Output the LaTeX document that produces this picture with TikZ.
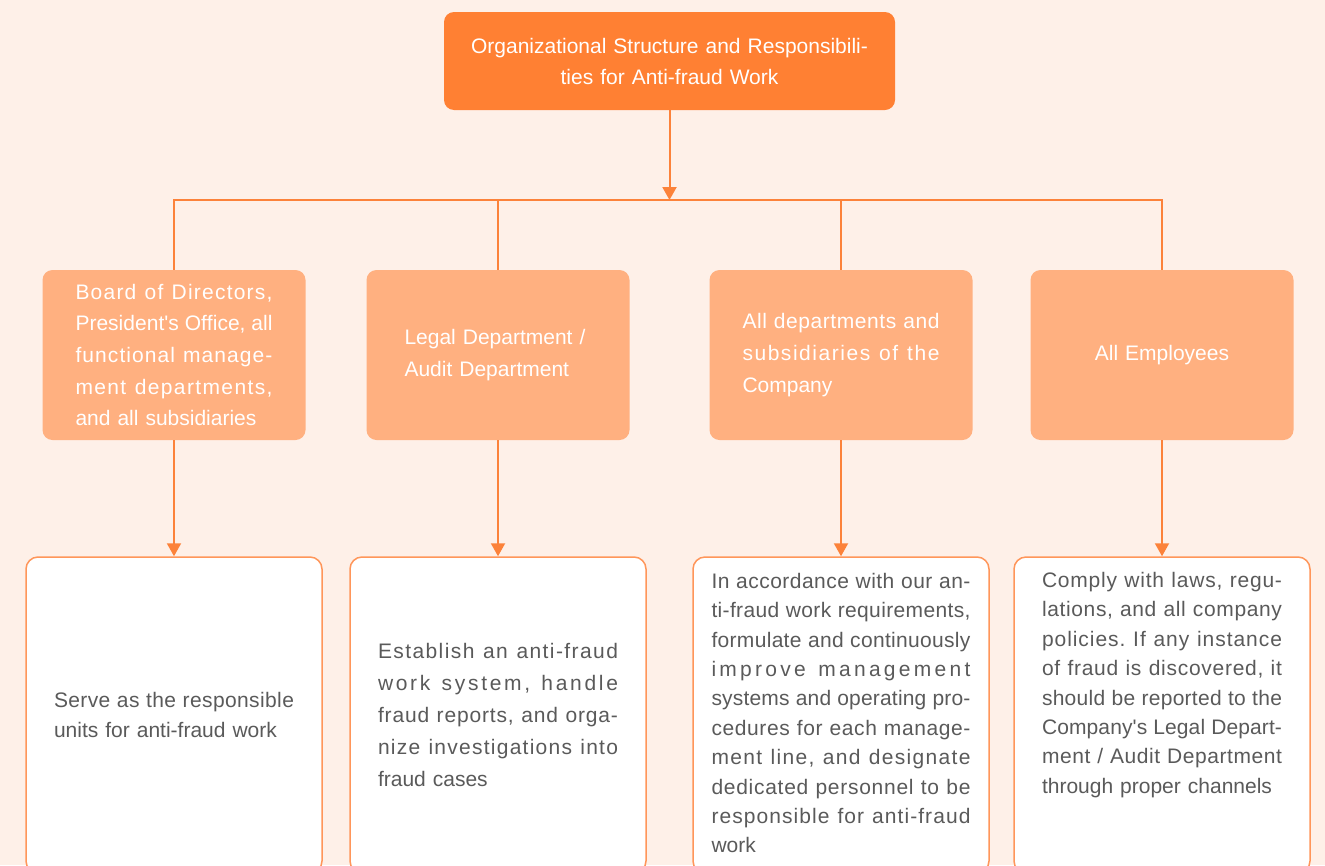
\documentclass[tikz,border=0pt]{standalone}
\usepackage{fontspec}
\setmainfont{Liberation Sans}
\usetikzlibrary{arrows.meta}

\definecolor{pagebg}{RGB}{254,240,232}
\definecolor{headfill}{RGB}{255,128,51}
\definecolor{unitfill}{RGB}{255,176,128}
\definecolor{linkcol}{RGB}{252,130,58}
\definecolor{dutyline}{RGB}{255,150,90}
\definecolor{textgray}{RGB}{90,90,90}

% inter-character justification: every gap between characters stretches alike
\ExplSyntaxOn
\cs_new_protected:Npn \spreadchars #1
  {
    \str_map_inline:nn {#1}
      {
        \str_if_eq:nnTF {##1} {~}
          { \hskip \fontdimen2\font plus 1fil \relax }
          {
            \str_if_eq:nnTF {##1} {'} { \textquotesingle } { ##1 }
            \hskip 0pt plus 1fil \relax
          }
      }
    \unskip
  }
\ExplSyntaxOff
\newcommand\sj[2]{\makebox[#1][s]{\spreadchars{#2}}}

\tikzset{
  headbox/.style={fill=headfill, rounded corners=10pt, minimum width=451pt,
    minimum height=98pt, inner sep=0pt, text=white, align=center,
    text width=430pt, font=\fontsize{21}{31}\selectfont},
  unitbox/.style={fill=unitfill, rounded corners=10pt, minimum width=263pt,
    minimum height=170pt, inner sep=0pt, text=white, align=left,
    text width=197pt, font=\fontsize{21}{31.7}\selectfont},
  dutybox/.style={draw=dutyline, line width=1.5pt, fill=white,
    rounded corners=12pt, minimum width=296pt, minimum height=316pt, inner sep=0pt},
  dutytext/.style={text=textgray, align=left, inner sep=0pt,
    font=\fontsize{21}{29.4}\selectfont},
  link/.style={draw=linkcol, line width=2pt},
  arrowed/.style={-{Triangle[length=13pt,width=14pt]}}
}

\begin{document}
\begin{tikzpicture}[x=1pt,y=-1pt]
  \useasboundingbox (0,0) rectangle (1325,865);
  \clip (0,0) rectangle (1325,865);
  \fill[pagebg] (0,0) rectangle (1325,865);

  % title
  \node[headbox] (head) at (669.5,61)
    {Organizational Structure and Responsibili-\\ties for Anti-fraud Work};

  % responsible units
  \node[unitbox] (u1) at (174,355)
    {\sj{197pt}{Board of Directors,}\\
     \sj{197pt}{President's Office, all}\\
     \sj{197pt}{functional manage-}\\
     \sj{197pt}{ment departments,}\\
     and all subsidiaries};
  \node[unitbox] (u2) at (498,355)
    {\hspace*{5pt}Legal Department /\\\hspace*{5pt}Audit Department};
  \node[unitbox] (u3) at (841,355)
    {\sj{197pt}{All departments and}\\
     \sj{197pt}{subsidiaries of the}\\
     Company};
  \node[unitbox, align=center] (u4) at (1162,355) {All Employees};

  % duty boxes
  \node[dutybox] (d1) at (174,715) {};
  \node[dutybox] (d2) at (498,715) {};
  \node[dutybox] (d3) at (841,715) {};
  \node[dutybox] (d4) at (1162,715) {};

  \node[dutytext, text width=240pt] (t1) at (d1.center)
    {\sj{240pt}{Serve as the responsible}\\
     units for anti-fraud work};
  \node[dutytext, text width=240pt, font=\fontsize{21}{32}\selectfont] (t2) at (d2.center)
    {\sj{240pt}{Establish an anti-fraud}\\
     \sj{240pt}{work system, handle}\\
     \sj{240pt}{fraud reports, and orga-}\\
     \sj{240pt}{nize investigations into}\\
     fraud cases};
  \node[dutytext, text width=259pt] (t3) at ([yshift=2pt]d3.center)
    {\sj{259pt}{In accordance with our an-}\\
     \sj{259pt}{ti-fraud work requirements,}\\
     \sj{259pt}{formulate and continuously}\\
     \sj{259pt}{improve management}\\
     \sj{259pt}{systems and operating pro-}\\
     \sj{259pt}{cedures for each manage-}\\
     \sj{259pt}{ment line, and designate}\\
     \sj{259pt}{dedicated personnel to be}\\
     \sj{259pt}{responsible for anti-fraud}\\
     work};
  \node[dutytext, text width=240pt] (t4) at ([yshift=30pt]d4.center)
    {\sj{240pt}{Comply with laws, regu-}\\
     \sj{240pt}{lations, and all company}\\
     \sj{240pt}{policies. If any instance}\\
     \sj{240pt}{of fraud is discovered, it}\\
     \sj{240pt}{should be reported to the}\\
     \sj{240pt}{Company's Legal Depart-}\\
     \sj{240pt}{ment / Audit Department}\\
     through proper channels};

  % connectors
  \coordinate (hub) at (669.5,200);
  \draw[link, arrowed] (head.south) -- (hub);
  \draw[link] (u1.north) |- (hub) -| (u4.north);
  \draw[link] (u2.north |- hub) -- (u2.north);
  \draw[link] (u3.north |- hub) -- (u3.north);
  \foreach \i in {1,...,4}
    \draw[link, arrowed] (u\i.south) -- (d\i.north);
\end{tikzpicture}
\end{document}
